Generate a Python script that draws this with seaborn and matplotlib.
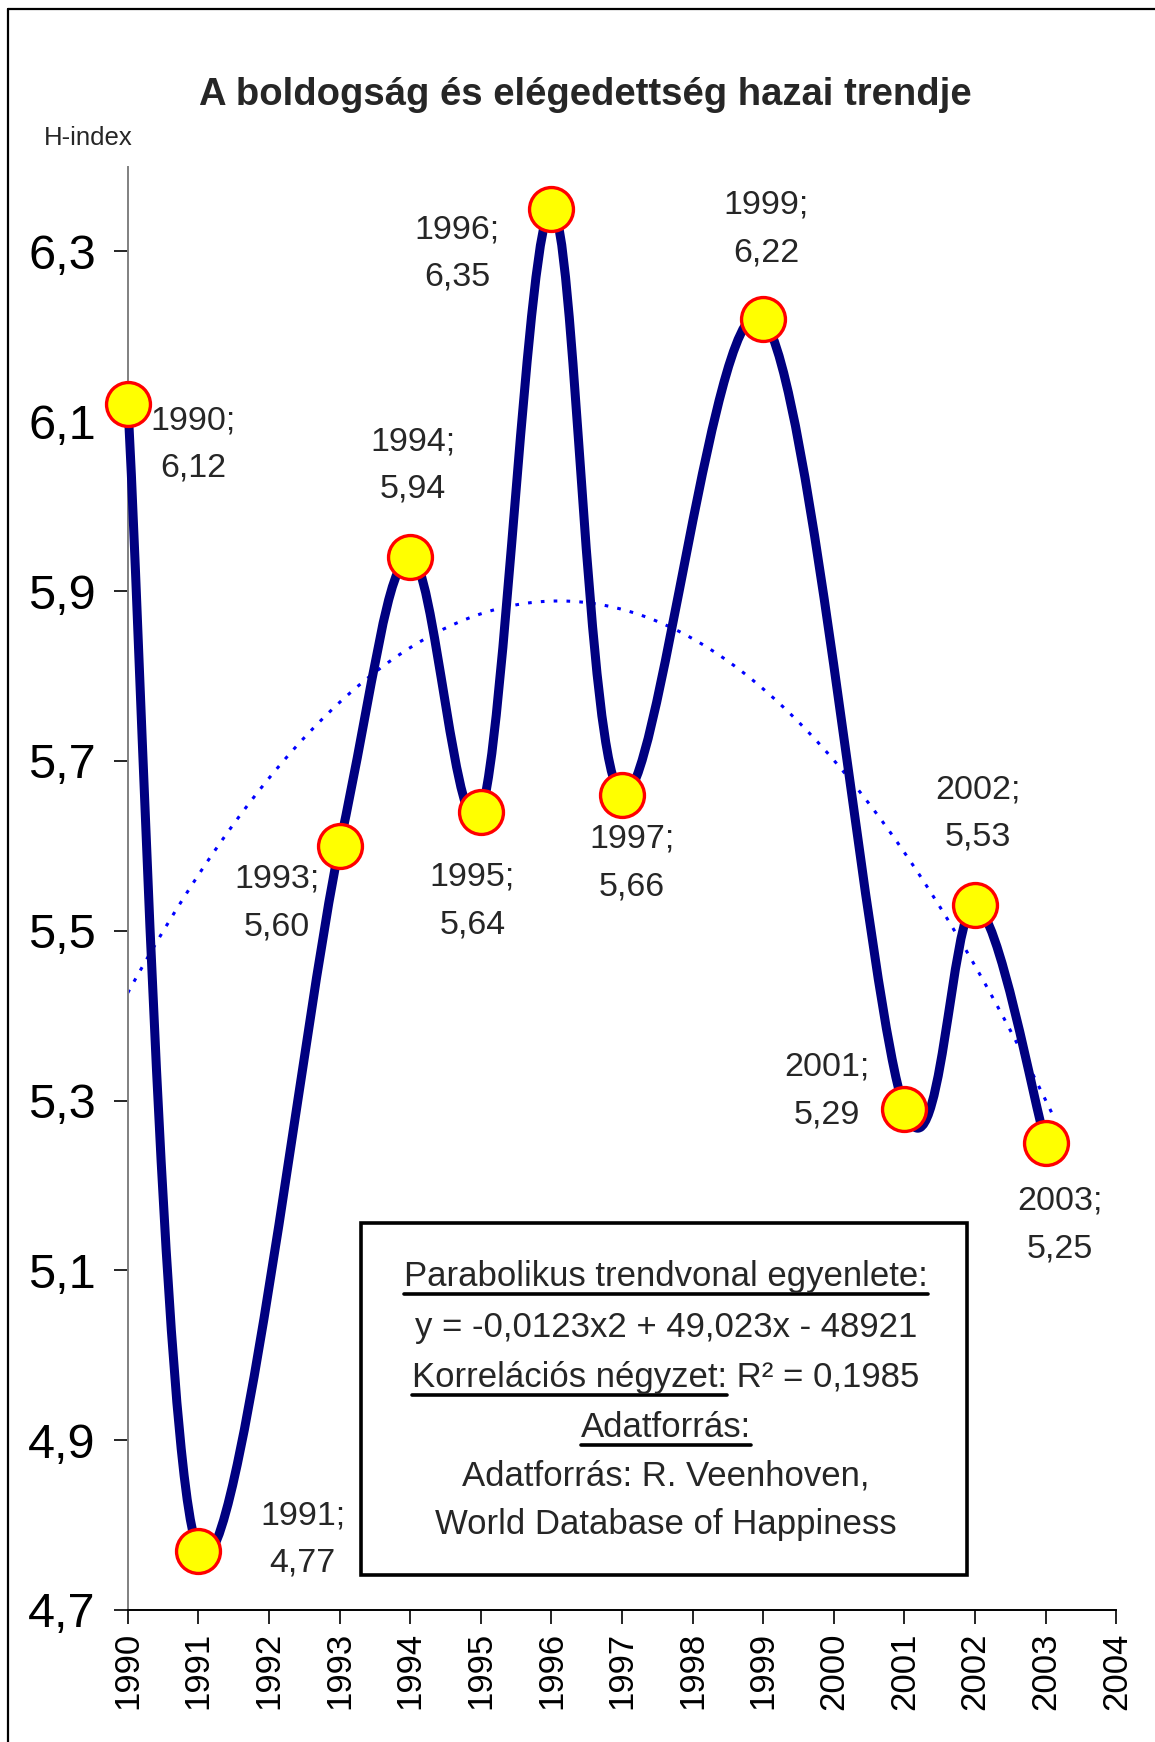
import matplotlib
matplotlib.use("Agg")
import matplotlib.pyplot as plt
import numpy as np
import pandas as pd
import seaborn as sns
from matplotlib.path import Path
from matplotlib.patches import PathPatch, Rectangle
from matplotlib.lines import Line2D

# data
years = [1990, 1991, 1993, 1994, 1995, 1996, 1997, 1999, 2001, 2002, 2003]
h_index = [6.12, 4.77, 5.60, 5.94, 5.64, 6.35, 5.66, 6.22, 5.29, 5.53, 5.25]
y_ticks = [4.7, 4.9, 5.1, 5.3, 5.5, 5.7, 5.9, 6.1, 6.3]
x_ticks = list(range(1990, 2005))

title = "A boldogság és elégedettség hazai trendje"
box_lines = [
    ("Parabolikus trendvonal egyenlete:", True),
    ("y = -0,0123x2 + 49,023x - 48921", False),
    ("Korrelációs négyzet: R² = 0,1985", "Korrelációs négyzet:"),
    ("Adatforrás:", True),
    ("Adatforrás: R. Veenhoven,", False),
    ("World Database of Happiness", False),
]

# label offsets in points (dx, dy) relative to each marker
label_offsets = [(47, -29), (75, 8), (-45, -41), (2, 66), (-6, -64), (-68, -32),
                 (7, -49), (2, 65), (-56, 13), (2, 66), (10, -59)]

sns.set_style("white")
plt.rcParams["font.family"] = ["Liberation Sans", "DejaVu Sans"]

fig = plt.figure(figsize=(11.55, 17.42), dpi=100)
ax = fig.add_axes([0.1106, 0.0758, 0.8559, 0.8286])

df = pd.DataFrame({"year": years, "h": h_index})

# Excel-style smoothed line: Catmull-Rom converted to cubic Bezier segments
pts = df[["year", "h"]].to_numpy(dtype=float)
verts = [tuple(pts[0])]
codes = [Path.MOVETO]
n = len(pts)
for i in range(n - 1):
    p_prev = pts[max(i - 1, 0)]
    p0 = pts[i]
    p1 = pts[i + 1]
    p_next = pts[min(i + 2, n - 1)]
    c1 = p0 + (p1 - p_prev) / 6.0
    c2 = p1 - (p_next - p0) / 6.0
    verts += [tuple(c1), tuple(c2), tuple(p1)]
    codes += [Path.CURVE4] * 3
curve = PathPatch(Path(verts, codes), facecolor="none", edgecolor="#000080",
                  lw=6.5, capstyle="round", joinstyle="round", zorder=3,
                  clip_on=False)
ax.add_patch(curve)

# parabolic trendline fitted to the data
coef = np.polyfit(df["year"], df["h"], 2)
tx = np.linspace(1990, 2003.1, 300)
trend = pd.DataFrame({"year": tx, "h": np.polyval(coef, tx)})
sns.lineplot(data=trend, x="year", y="h", ax=ax, color="#0000ff", lw=2.2,
             linestyle=(0, (1.2, 3.0)), zorder=2)

sns.scatterplot(data=df, x="year", y="h", ax=ax, s=1000, color="#ffff00",
                edgecolor="#ff0000", linewidth=2.4, zorder=5, legend=False,
                clip_on=False)

for (yr, v), (dx, dy) in zip(zip(years, h_index), label_offsets):
    ax.annotate(f"{yr};\n{v:.2f}".replace(".", ","), (yr, v),
                xytext=(dx, dy), textcoords="offset points",
                ha="center", va="center", fontsize=24.5, linespacing=1.7,
                zorder=6)

ax.set_xlim(1990, 2004)
ax.set_ylim(4.7, 6.4)
ax.set_xticks(x_ticks)
ax.set_xticklabels([str(x) for x in x_ticks], rotation=90, fontsize=25)
ax.set_yticks(y_ticks)
ax.set_yticklabels([f"{t:.1f}".replace(".", ",") for t in y_ticks], fontsize=35)
ax.set_xlabel("")
ax.set_ylabel("")
ax.tick_params(axis="y", direction="out", length=10, width=1.2, pad=13,
               colors="black", left=True)
ax.tick_params(axis="x", direction="out", length=10, width=1.2, pad=6,
               colors="black", bottom=True)
for side in ["top", "right"]:
    ax.spines[side].set_visible(False)
ax.spines["left"].set_color("#808080")
ax.spines["left"].set_linewidth(1.4)
ax.spines["bottom"].set_color("black")
ax.spines["bottom"].set_linewidth(1.4)
ax.grid(False)

fig.text(585 / 1155, 1 - 95 / 1742, title, ha="center", va="center",
         fontsize=27.5, fontweight="bold")
fig.text(88 / 1155, 1 - 138 / 1742, "H-index", ha="center", va="center",
         fontsize=18.5)

# text box with the trend equation and source
fig.add_artist(Rectangle((361 / 1155, 1 - 1575 / 1742), 606 / 1155, 352 / 1742,
                         transform=fig.transFigure, facecolor="white",
                         edgecolor="black", lw=2.6, zorder=7))
baselines = [1286, 1337, 1387, 1437, 1486, 1534]
renderer = fig.canvas.get_renderer()
for (txt, under), yb in zip(box_lines, baselines):
    t = fig.text(666 / 1155, 1 - yb / 1742, txt, ha="center", va="baseline",
                 fontsize=25, zorder=8)
    if under:
        bb = t.get_window_extent(renderer)
        x0 = bb.x0
        if isinstance(under, str):
            probe = fig.text(0, 0, under, fontsize=25)
            w = probe.get_window_extent(renderer).width
            probe.remove()
            x1 = x0 + w
        else:
            x1 = bb.x1
        yu = (1742 - yb - 8) / 1742
        fig.add_artist(Line2D([x0 / 1155, x1 / 1155], [yu, yu],
                              transform=fig.transFigure, color="black",
                              lw=2.6, zorder=8))

# outer frame (only left and top edges visible)
fig.add_artist(Line2D([8 / 1155, 8 / 1155], [0, 1 - 9 / 1742],
                      transform=fig.transFigure, color="black", lw=1.6))
fig.add_artist(Line2D([8 / 1155, 1], [1 - 9 / 1742, 1 - 9 / 1742],
                      transform=fig.transFigure, color="black", lw=1.6))

fig.savefig("out.png", dpi=100)
